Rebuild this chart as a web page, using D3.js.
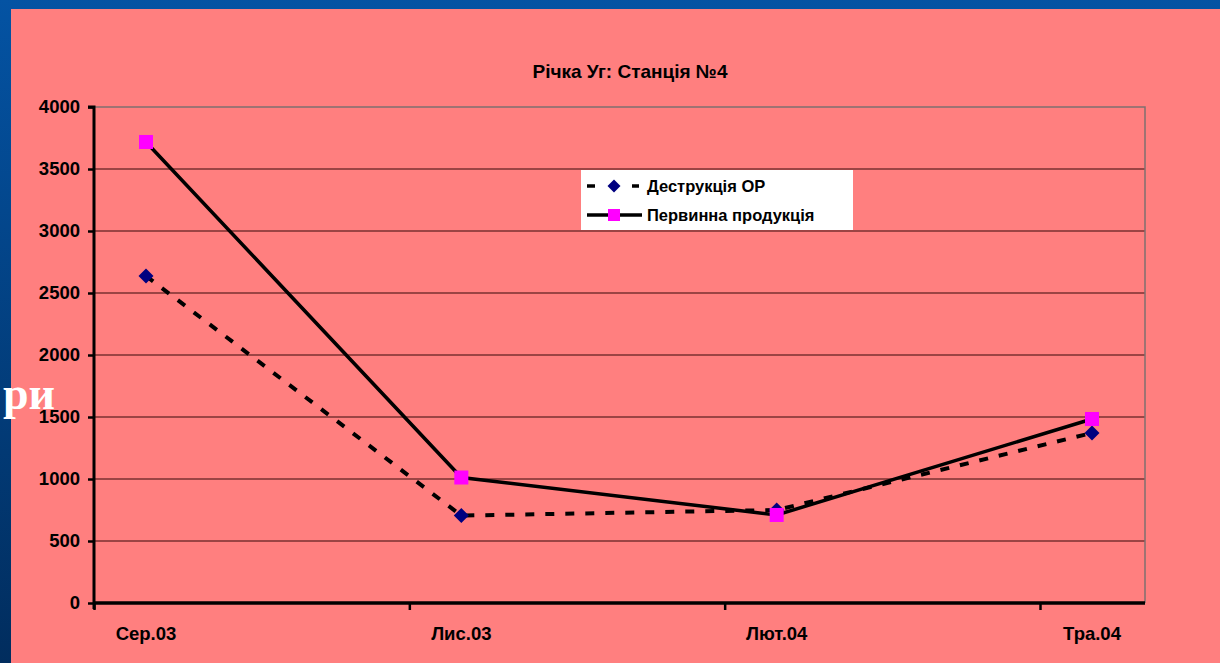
<!DOCTYPE html>
<html>
<head>
<meta charset="utf-8">
<script src="https://cdn.jsdelivr.net/npm/d3@7"></script>
<style>
  html, body { margin: 0; padding: 0; background: #0050a0; }
  svg { display: block; }
  text { font-family: "Liberation Sans", Arial, sans-serif; font-weight: bold; }
  text.slide { font-family: "Liberation Serif", "Times New Roman", serif; }
</style>
</head>
<body>
<svg id="chart" width="1220" height="663"></svg>
<script>
// Monthly sampling dates
const categories = ["Сер.03", "Лис.03", "Лют.04", "Тра.04"];
// Destruction of organic matter
const destructionValues = [2637, 705, 750, 1371];
// Primary production
const productionValues = [3718, 1012, 710, 1484];
const yTicks = [0, 500, 1000, 1500, 2000, 2500, 3000, 3500, 4000];
const seriesNames = ["Деструкція ОР", "Первинна продукція"];
const titleText = "Річка Уг: Станція №4";

const W = 1220, H = 663;
const svg = d3.select("#chart");

// slide background: blue frame fading to navy, pink panel on top
const defs = svg.append("defs");
const grad = defs.append("linearGradient").attr("id", "frame")
  .attr("x1", 0).attr("y1", 0).attr("x2", 0).attr("y2", 1);
grad.append("stop").attr("offset", "0%").attr("stop-color", "#0453a3");
grad.append("stop").attr("offset", "100%").attr("stop-color", "#012d5e");
svg.append("rect").attr("width", W).attr("height", H).attr("fill", "url(#frame)");
svg.append("rect").attr("x", 11).attr("y", 9).attr("width", W - 11).attr("height", H - 9)
  .attr("fill", "#ff7f7f");

// slide body text peeking from behind the chart
svg.append("text").attr("class", "slide").attr("x", 3).attr("y", 409)
  .attr("font-size", 46).attr("fill", "#fff").text("ри");

// plot geometry
const plot = { left: 94, right: 1145, top: 107, bottom: 603 };
const y = d3.scaleLinear().domain([0, 4000]).range([plot.bottom, plot.top]);
const x = d3.scaleLinear().domain([0, categories.length - 1]).range([146, 1092]);
const halfStep = (x(0) - plot.left) / (x(1) - x(0));

// gridlines
svg.append("g").selectAll("line").data(yTicks.filter(d => d > 0 && d < 4000)).join("line")
  .attr("x1", plot.left).attr("x2", plot.right)
  .attr("y1", d => y(d)).attr("y2", d => y(d))
  .attr("stroke", "#7a3030").attr("stroke-width", 1.5);

// plot area frame (top and right)
svg.append("path")
  .attr("d", `M${plot.left},${y(4000)}H${plot.right}V${plot.bottom}`)
  .attr("fill", "none").attr("stroke", "#7f7070").attr("stroke-width", 1.5);

// y axis
const yAxis = d3.axisLeft(y).tickValues(yTicks).tickFormat(d3.format("d")).tickSize(6).tickPadding(8);
const gy = svg.append("g").attr("transform", `translate(${plot.left},0)`).call(yAxis);
gy.select(".domain").attr("stroke", "#000").attr("stroke-width", 3)
  .attr("d", `M-6,${plot.top}H0V${plot.bottom + 6}`);
gy.selectAll(".tick line").attr("stroke", "#000").attr("stroke-width", 2.5);
gy.selectAll(".tick text").attr("font-size", 18.5).attr("fill", "#000")
  .attr("font-family", null);

// x axis: ticks sit between categories
const xTickPos = d3.range(categories.length).map(i => i - halfStep);
const xAxisTicks = d3.axisBottom(x).tickValues(xTickPos).tickSize(7).tickFormat("");
const gx = svg.append("g").attr("transform", `translate(0,${plot.bottom})`).call(xAxisTicks);
gx.select(".domain").attr("stroke", "#000").attr("stroke-width", 3.5)
  .attr("d", `M${plot.left},0H${plot.right}`);
gx.selectAll(".tick line").attr("stroke", "#000").attr("stroke-width", 2.5);

svg.append("g").selectAll("text").data(categories).join("text")
  .attr("x", (d, i) => x(i)).attr("y", 640)
  .attr("text-anchor", "middle").attr("font-size", 18.5).attr("fill", "#000")
  .text(d => d);

// title
svg.append("text").attr("x", 630).attr("y", 78).attr("text-anchor", "middle")
  .attr("font-size", 19).attr("fill", "#000").text(titleText);

// series lines
const line = d3.line().x((d, i) => x(i)).y(d => y(d));
svg.append("path").datum(destructionValues).attr("d", line)
  .attr("fill", "none").attr("stroke", "#000").attr("stroke-width", 4)
  .attr("stroke-dasharray", "9,11");
svg.append("path").datum(productionValues).attr("d", line)
  .attr("fill", "none").attr("stroke", "#000").attr("stroke-width", 3.5);

// markers
const diamond = s => `M0,${-s}L${s},0L0,${s}L${-s},0Z`;
svg.append("g").selectAll("path").data(destructionValues).join("path")
  .attr("transform", (d, i) => `translate(${x(i)},${y(d)})`)
  .attr("d", diamond(7.5)).attr("fill", "#000080");
svg.append("g").selectAll("rect").data(productionValues).join("rect")
  .attr("x", (d, i) => x(i) - 7).attr("y", d => y(d) - 7)
  .attr("width", 14).attr("height", 14).attr("fill", "#ff00ff");

// legend
const lg = svg.append("g").attr("transform", "translate(581,170)");
lg.append("rect").attr("width", 272).attr("height", 60).attr("fill", "#fff");
const rows = [
  { name: seriesNames[0], dashed: true, marker: "diamond", cy: 16 },
  { name: seriesNames[1], dashed: false, marker: "square", cy: 45 }
];
rows.forEach(r => {
  const segs = r.dashed ? [[6, 14], [51, 58]] : [[6, 61]];
  segs.forEach(s => lg.append("line").attr("x1", s[0]).attr("x2", s[1])
    .attr("y1", r.cy).attr("y2", r.cy)
    .attr("stroke", "#000").attr("stroke-width", 3.5));
  if (r.marker === "diamond") {
    lg.append("path").attr("transform", `translate(33,${r.cy})`).attr("d", diamond(6.5)).attr("fill", "#000080");
  } else {
    lg.append("rect").attr("x", 27).attr("y", r.cy - 6).attr("width", 12).attr("height", 12).attr("fill", "#ff00ff");
  }
  lg.append("text").attr("x", 66).attr("y", r.cy + 6).attr("font-size", 16.5).attr("fill", "#000").text(r.name);
});
</script>
</body>
</html>
